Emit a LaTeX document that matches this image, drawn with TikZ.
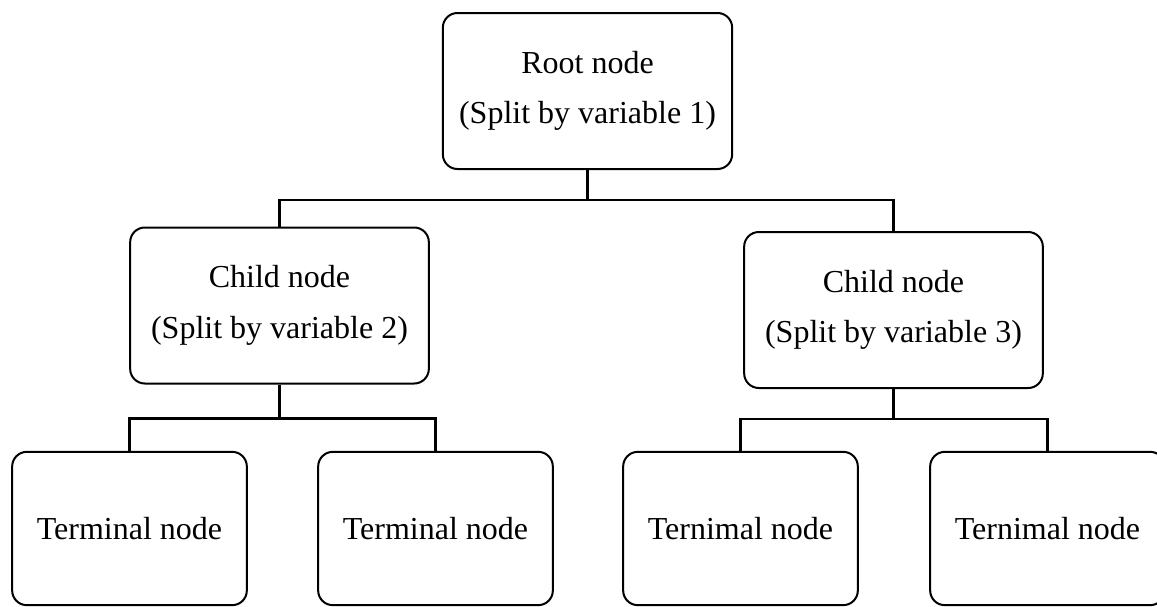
\documentclass[tikz,border=0pt]{standalone}
\usepackage{fontspec}
\setmainfont{Liberation Serif}
\usepackage{tikz}
\usetikzlibrary{positioning,calc}

\begin{document}
\begin{tikzpicture}[x=0.75pt, y=-0.75pt,
    box/.style={rectangle, draw=black, line width=1.5pt, rounded corners=11pt, fill=white, align=center, font=\fontsize{24}{38}\selectfont},
    rootbox/.style={box, minimum width=217pt, minimum height=117pt},
    childbox/.style={box, minimum width=224pt, minimum height=117pt},
    leafbox/.style={box, minimum width=176pt, minimum height=115pt},
    link/.style={line width=1.6pt}
]
    \clip (0,0) rectangle (1157,607);

    % Root node
    \node[rootbox] (root) at (587.5,91) {Root node\\(Split by variable 1)};

    % Child nodes
    \node[childbox] (cl) at (279.5,305.5) {Child node\\(Split by variable 2)};
    \node[childbox] (cr) at (893.5,310) {Child node\\(Split by variable 3)};

    % Terminal nodes
    \node[leafbox] (t1) at (129.5,528.5) {Terminal node};
    \node[leafbox] (t2) at (435.5,528.5) {Terminal node};
    \node[leafbox] (t3) at (740.5,528.5) {Ternimal node};
    \node[leafbox] (t4) at (1047.5,528.5) {Ternimal node};

    % Connections
    \coordinate (s0) at ($(root.south)+(0,30)$);
    \coordinate (s1) at ($(cl.south)+(0,34)$);
    \coordinate (s2) at ($(cr.south)+(0,30)$);
    \draw[link] (root.south) -- (s0) -| (cl.north);
    \draw[link] (s0) -| (cr.north);
    \draw[link] (cl.south) -- (s1) -| (t1.north);
    \draw[link] (s1) -| (t2.north);
    \draw[link] (cr.south) -- (s2) -| (t3.north);
    \draw[link] (s2) -| (t4.north);
\end{tikzpicture}
\end{document}
